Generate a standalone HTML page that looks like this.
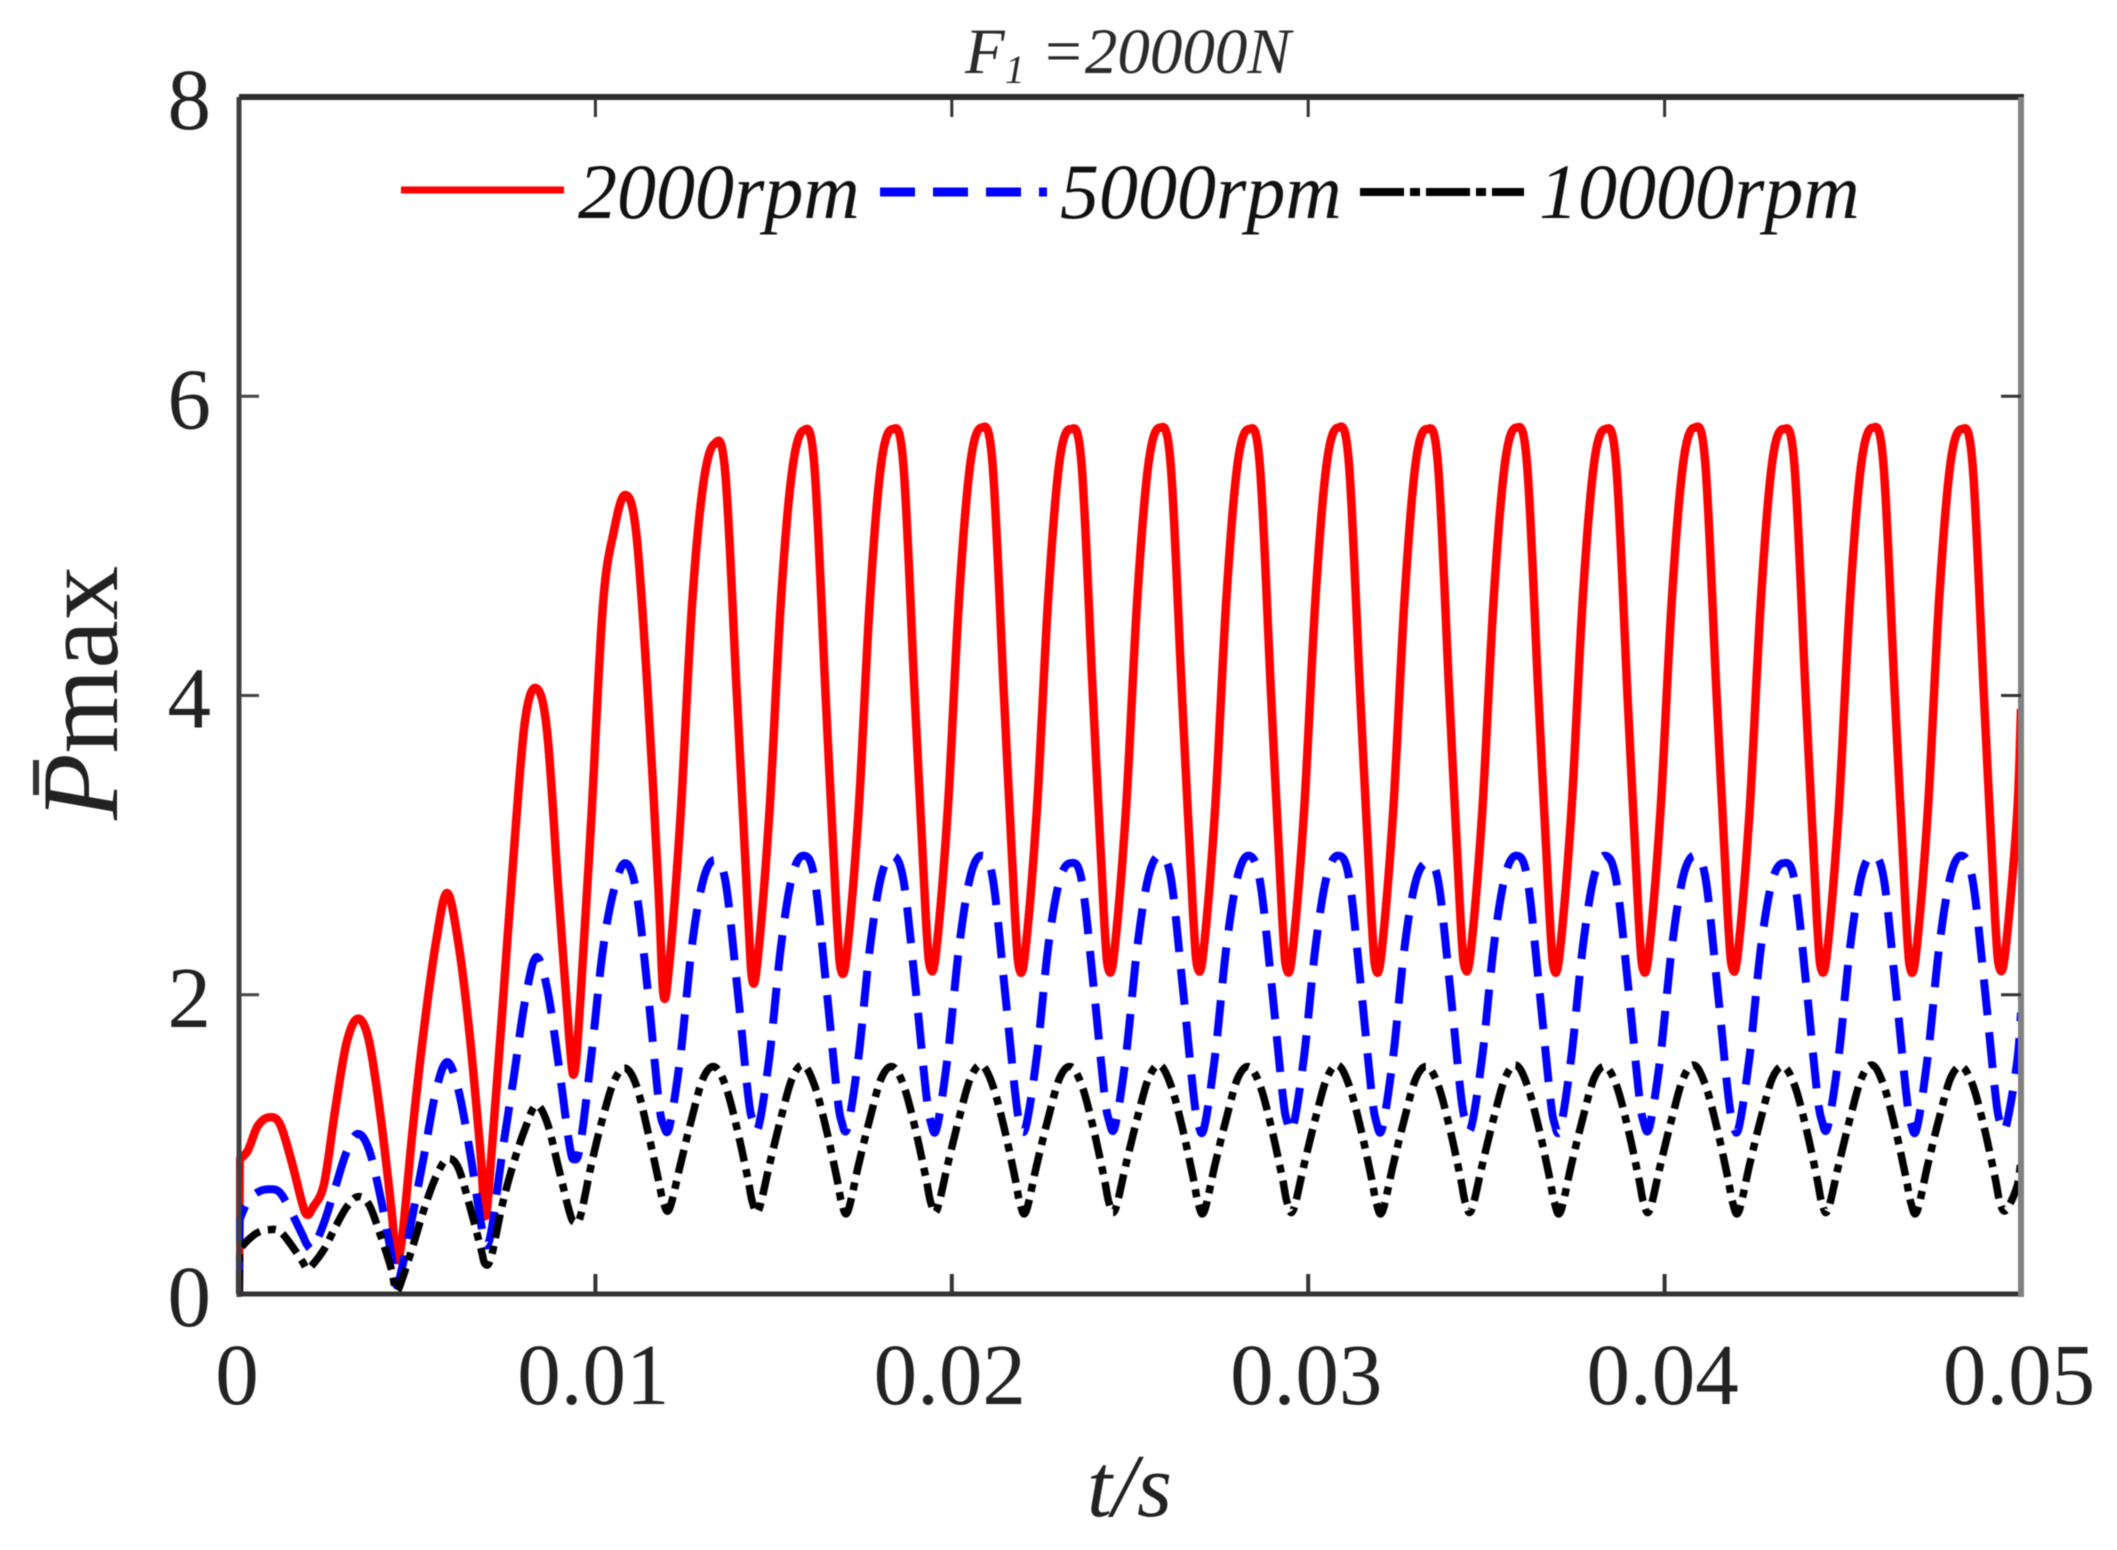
<!DOCTYPE html>
<html lang="en">
<head>
<meta charset="utf-8">
<title>F1 = 20000N pressure chart</title>
<style>
html,body{margin:0;padding:0;background:#fff;}
svg{display:block;font-family:"Liberation Serif","Times New Roman",serif;filter:blur(0.6px);}
</style>
</head>
<body>
<svg id="chart" xmlns="http://www.w3.org/2000/svg" width="2117" height="1550" viewBox="0 0 2117 1550">
  <rect x="0" y="0" width="2117" height="1550" fill="#ffffff"/>
  <defs><clipPath id="plot-clip"><rect x="236" y="94" width="1788" height="1203"/></clipPath></defs>
  <g id="series-layer" clip-path="url(#plot-clip)"></g>
  <g id="axes-layer"></g>

  <text x="965" y="73" font-size="65" font-style="italic" fill="#2a2a2a">F<tspan font-size="40" dy="10">1</tspan><tspan dy="-10" xml:space="preserve"> =20000N</tspan></text>

  <text x="1087" y="1516" font-size="90" font-style="italic" fill="#222">t/s</text>

  <g transform="translate(117,820) rotate(-90)">
    <text x="0" y="0" font-size="109" fill="#222"><tspan font-style="italic">P</tspan><tspan>max</tspan></text>
  </g>
  <rect x="33" y="760" width="6" height="35" fill="#333"/>

  <g>
    <line x1="401" y1="190" x2="564" y2="190" stroke="#ff0000" stroke-width="7"/>
    <text x="578" y="218" font-size="78" font-style="italic" fill="#111">2000rpm</text>
    <line x1="880" y1="192" x2="1047" y2="192" stroke="#0000ff" stroke-width="9" stroke-dasharray="35 18"/>
    <text x="1060" y="218" font-size="78" font-style="italic" fill="#111">5000rpm</text>
    <line x1="1360" y1="192" x2="1524" y2="192" stroke="#000000" stroke-width="8" stroke-dasharray="44 6 10 6"/>
    <text x="1539" y="218" font-size="78" font-style="italic" fill="#111">10000rpm</text>
  </g>
</svg>
<script>
// Axis ranges and labels
const xTickValues = [0, 0.01, 0.02, 0.03, 0.04, 0.05];
const xTickLabels = ["0", "0.01", "0.02", "0.03", "0.04", "0.05"];
const yTickValues = [0, 2, 4, 6, 8];
const yTickLabels = ["0", "2", "4", "6", "8"];

// Sample times in milliseconds
const timeMs = [
  0,0.02,0.25,0.52,
  0.83,1.14,1.46,1.77,1.91,2.08,2.39,2.71,3.02,
  3.33,3.64,3.96,4.27,4.41,4.58,4.89,5.21,5.52,
  5.83,6.14,6.46,6.77,6.91,7.08,7.39,7.71,8.02,
  8.33,8.64,8.96,9.27,9.41,9.58,9.89,10.21,10.52,
  10.83,11.14,11.46,11.77,11.91,12.08,12.39,12.71,13.02,
  13.33,13.64,13.96,14.27,14.41,14.58,14.89,15.21,15.52,
  15.83,16.14,16.46,16.77,16.91,17.08,17.39,17.71,18.02,
  18.33,18.64,18.96,19.27,19.41,19.58,19.89,20.21,20.52,
  20.83,21.14,21.46,21.77,21.91,22.08,22.39,22.71,23.02,
  23.33,23.64,23.96,24.27,24.41,24.58,24.89,25.21,25.52,
  25.83,26.14,26.46,26.77,26.91,27.08,27.39,27.71,28.02,
  28.33,28.64,28.96,29.27,29.41,29.58,29.89,30.21,30.52,
  30.83,31.14,31.46,31.77,31.91,32.08,32.39,32.71,33.02,
  33.33,33.64,33.96,34.27,34.41,34.58,34.89,35.21,35.52,
  35.83,36.14,36.46,36.77,36.91,37.08,37.39,37.71,38.02,
  38.33,38.64,38.96,39.27,39.41,39.58,39.89,40.21,40.52,
  40.83,41.14,41.46,41.77,41.91,42.08,42.39,42.71,43.02,
  43.33,43.64,43.96,44.27,44.41,44.58,44.89,45.21,45.52,
  45.83,46.14,46.46,46.77,46.91,47.08,47.39,47.71,48.02,
  48.33,48.64,48.96,49.27,49.41,49.58,49.89,50.0
];

// 2000 rpm pressure values
const rpm2000 = [
  0,0.9,0.96,1.12,
  1.18,1.14,0.9,0.61,0.53,0.58,0.74,1.25,1.68,
  1.84,1.7,1.21,0.58,0.24,0.38,1.14,1.81,2.34,
  2.68,2.37,1.76,0.96,0.52,0.92,1.9,2.95,3.82,
  4.05,3.77,2.7,1.7,1.48,1.97,3.2,4.6,5.1,
  5.34,5.1,4.05,2.7,2.0,2.22,3.2,4.6,5.4,
  5.68,5.5,4.05,2.6,2.09,2.3,3.25,4.65,5.5,
  5.77,5.55,4.0,2.52,2.15,2.33,3.25,4.67,5.55,
  5.78,5.55,4.0,2.52,2.17,2.33,3.25,4.67,5.55,
  5.79,5.56,4.02,2.54,2.16,2.33,3.25,4.67,5.56,
  5.78,5.55,4.0,2.52,2.16,2.33,3.25,4.67,5.55,
  5.79,5.55,4.0,2.54,2.17,2.33,3.25,4.67,5.55,
  5.78,5.55,4.0,2.52,2.16,2.33,3.25,4.67,5.55,
  5.79,5.56,4.0,2.54,2.16,2.33,3.25,4.67,5.56,
  5.78,5.55,4.0,2.52,2.17,2.33,3.25,4.67,5.55,
  5.79,5.55,4.0,2.54,2.16,2.33,3.25,4.67,5.55,
  5.78,5.55,4.0,2.52,2.16,2.33,3.25,4.67,5.55,
  5.79,5.56,4.0,2.54,2.17,2.33,3.25,4.67,5.56,
  5.78,5.55,4.0,2.52,2.16,2.33,3.25,4.67,5.55,
  5.79,5.55,4.0,2.54,2.16,2.33,3.25,4.67,5.55,
  5.78,5.55,4.0,2.52,2.17,2.33,3.2,3.91
];

// 5000 rpm pressure values
const rpm5000 = [
  0,0.5,0.62,0.68,
  0.7,0.68,0.55,0.4,0.33,0.31,0.48,0.72,0.95,
  1.07,0.97,0.66,0.27,0.06,0.18,0.55,0.95,1.35,
  1.55,1.38,0.98,0.5,0.33,0.42,0.95,1.45,1.95,
  2.25,2.05,1.55,1.0,0.9,1.0,1.6,2.3,2.7,
  2.88,2.7,2.05,1.3,1.13,1.12,1.6,2.33,2.76,
  2.9,2.77,2.1,1.36,1.16,1.12,1.6,2.33,2.79,
  2.93,2.79,2.1,1.36,1.15,1.12,1.6,2.33,2.79,
  2.93,2.77,2.1,1.36,1.15,1.11,1.6,2.33,2.79,
  2.93,2.79,2.1,1.36,1.14,1.12,1.6,2.33,2.76,
  2.88,2.77,2.1,1.36,1.16,1.12,1.6,2.33,2.79,
  2.93,2.79,2.1,1.36,1.14,1.11,1.6,2.33,2.79,
  2.93,2.77,2.1,1.36,1.15,1.12,1.6,2.33,2.79,
  2.93,2.79,2.1,1.36,1.15,1.11,1.6,2.33,2.76,
  2.88,2.77,2.1,1.36,1.16,1.12,1.6,2.33,2.79,
  2.93,2.79,2.1,1.36,1.14,1.11,1.6,2.33,2.79,
  2.93,2.77,2.1,1.36,1.15,1.12,1.6,2.33,2.79,
  2.93,2.79,2.1,1.36,1.15,1.11,1.6,2.33,2.76,
  2.88,2.77,2.1,1.36,1.16,1.12,1.6,2.33,2.79,
  2.93,2.79,2.1,1.36,1.14,1.11,1.6,2.33,2.79,
  2.93,2.77,2.1,1.36,1.15,1.12,1.55,1.88
];

// 10000 rpm pressure values
const rpm10000 = [
  0,0.3,0.36,0.41,
  0.43,0.42,0.33,0.22,0.17,0.2,0.3,0.45,0.58,
  0.65,0.6,0.4,0.17,0.02,0.1,0.33,0.58,0.78,
  0.9,0.85,0.6,0.32,0.2,0.25,0.6,0.88,1.1,
  1.26,1.15,0.85,0.55,0.48,0.52,0.87,1.18,1.42,
  1.51,1.4,1.1,0.76,0.61,0.57,0.87,1.18,1.44,
  1.52,1.4,1.12,0.78,0.61,0.56,0.87,1.18,1.44,
  1.53,1.4,1.12,0.78,0.61,0.55,0.87,1.18,1.44,
  1.52,1.4,1.12,0.78,0.61,0.56,0.87,1.18,1.44,
  1.53,1.4,1.12,0.78,0.61,0.55,0.87,1.18,1.44,
  1.52,1.4,1.12,0.78,0.61,0.56,0.87,1.18,1.44,
  1.53,1.4,1.12,0.78,0.61,0.55,0.87,1.18,1.44,
  1.52,1.4,1.12,0.78,0.61,0.56,0.87,1.18,1.44,
  1.53,1.4,1.12,0.78,0.61,0.55,0.87,1.18,1.44,
  1.52,1.4,1.12,0.78,0.61,0.56,0.87,1.18,1.44,
  1.53,1.4,1.12,0.78,0.61,0.55,0.87,1.18,1.44,
  1.52,1.4,1.12,0.78,0.61,0.56,0.87,1.18,1.44,
  1.53,1.4,1.12,0.78,0.61,0.55,0.87,1.18,1.44,
  1.52,1.4,1.12,0.78,0.61,0.56,0.87,1.18,1.44,
  1.53,1.4,1.12,0.78,0.61,0.55,0.87,1.18,1.44,
  1.52,1.4,1.12,0.78,0.61,0.56,0.72,0.9
];

const NS = "http://www.w3.org/2000/svg";
const plotLeft = 239, plotRight = 2021, plotTop = 97, plotBottom = 1294;
const xMax = 0.05, yMax = 8;

function xScale(seconds) { return plotLeft + (seconds / xMax) * (plotRight - plotLeft); }
function yScale(value) { return plotBottom - (value / yMax) * (plotBottom - plotTop); }

function smoothPath(times, values) {
  const pts = times.map(function (t, i) { return [xScale(t / 1000), yScale(values[i])]; });
  let d = "M" + pts[0][0].toFixed(1) + " " + pts[0][1].toFixed(1);
  d += "L" + pts[1][0].toFixed(1) + " " + pts[1][1].toFixed(1);
  for (let i = 1; i < pts.length - 1; i++) {
    const p0 = i === 1 ? pts[1] : pts[i - 1], p1 = pts[i], p2 = pts[i + 1], p3 = pts[Math.min(i + 2, pts.length - 1)];
    const c1x = p1[0] + (p2[0] - p0[0]) / 6, c1y = p1[1] + (p2[1] - p0[1]) / 6;
    const c2x = p2[0] - (p3[0] - p1[0]) / 6, c2y = p2[1] - (p3[1] - p1[1]) / 6;
    d += "C" + c1x.toFixed(1) + " " + c1y.toFixed(1) + " " + c2x.toFixed(1) + " " + c2y.toFixed(1) + " " + p2[0].toFixed(1) + " " + p2[1].toFixed(1);
  }
  return d;
}

const seriesLayer = document.getElementById("series-layer");
const axesLayer = document.getElementById("axes-layer");

const redLine = document.createElementNS(NS, "path");


redLine.setAttribute("d", smoothPath(timeMs, rpm2000));
redLine.setAttribute("fill", "none");
redLine.setAttribute("stroke", "#ff0000");
redLine.setAttribute("stroke-width", "8.5");
redLine.setAttribute("stroke-linejoin", "round");
seriesLayer.appendChild(redLine);

const blueLine = document.createElementNS(NS, "path");


blueLine.setAttribute("d", smoothPath(timeMs, rpm5000));
blueLine.setAttribute("fill", "none");
blueLine.setAttribute("stroke", "#0000ff");
blueLine.setAttribute("stroke-width", "8");
blueLine.setAttribute("stroke-dasharray", "36 17");
seriesLayer.appendChild(blueLine);

const blackLine = document.createElementNS(NS, "path");


blackLine.setAttribute("d", smoothPath(timeMs, rpm10000));
blackLine.setAttribute("fill", "none");
blackLine.setAttribute("stroke", "#000000");
blackLine.setAttribute("stroke-width", "7.5");
blackLine.setAttribute("stroke-dasharray", "24 8 8 8");
seriesLayer.appendChild(blackLine);

function addLine(name, x1, y1, x2, y2, color, width) {
  const ln = document.createElementNS(NS, "line");
  
  
  ln.setAttribute("x1", x1);
  ln.setAttribute("y1", y1);
  ln.setAttribute("x2", x2);
  ln.setAttribute("y2", y2);
  ln.setAttribute("stroke", color);
  ln.setAttribute("stroke-width", width);
  axesLayer.appendChild(ln);
}

function addLabel(name, x, y, anchor, content) {
  const tx = document.createElementNS(NS, "text");
  
  
  tx.setAttribute("x", x);
  tx.setAttribute("y", y);
  tx.setAttribute("text-anchor", anchor);
  tx.setAttribute("font-size", "87");
  tx.setAttribute("fill", "#222");
  tx.textContent = content;
  axesLayer.appendChild(tx);
}

addLine("plot-frame-left", plotLeft, plotTop, plotLeft, plotBottom + 3, "#404040", 5);
addLine("plot-frame-bottom", plotLeft, plotBottom, plotRight, plotBottom, "#333333", 5);
addLine("plot-frame-top", plotLeft, plotTop, plotRight + 3, plotTop, "#2b2b2b", 6);
addLine("plot-frame-right", plotRight, plotTop, plotRight, plotBottom + 3, "#808080", 6);

xTickValues.forEach(function (v, i) {
  const x = xScale(v);
  if (i > 0 && i < xTickValues.length - 1) {
    addLine("x-tick-bottom-" + xTickLabels[i], x, plotBottom, x, plotBottom - 20, "#333333", 4);
    addLine("x-tick-top-" + xTickLabels[i], x, plotTop, x, plotTop + 20, "#333333", 3);
  }
  addLabel("x-tick-label-" + xTickLabels[i], x - 2, 1404, "middle", xTickLabels[i]);
});

yTickValues.forEach(function (v, i) {
  const y = yScale(v);
  if (i > 0 && i < yTickValues.length - 1) {
    addLine("y-tick-left-" + yTickLabels[i], plotLeft, y, plotLeft + 20, y, "#444444", 3);
    addLine("y-tick-right-" + yTickLabels[i], plotRight, y, plotRight - 20, y, "#333333", 3);
  }
  addLabel("y-tick-label-" + yTickLabels[i], 211, y + 32, "end", yTickLabels[i]);
});
</script>
</body>
</html>
